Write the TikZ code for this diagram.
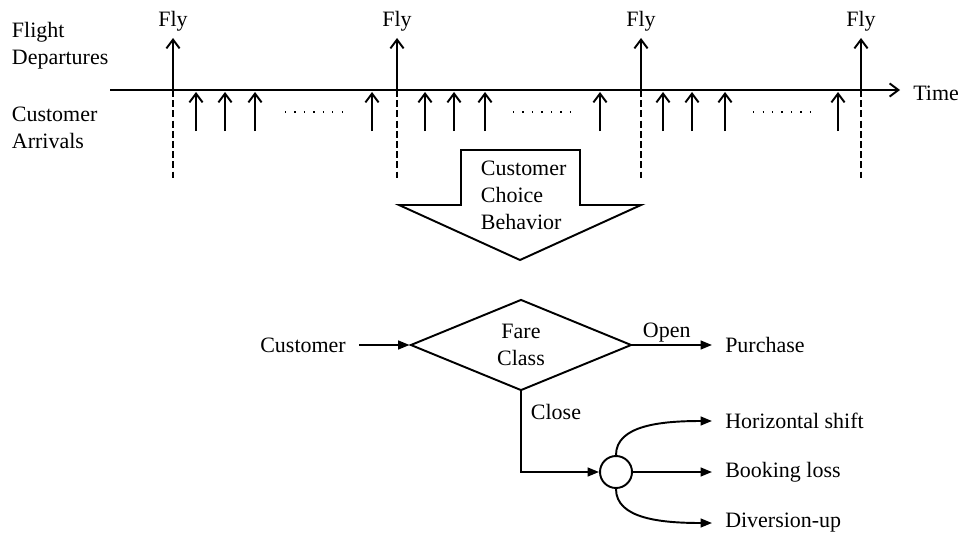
\documentclass[tikz,border=0pt]{standalone}
\usepackage{fontspec}
\setmainfont{Liberation Serif}
\usetikzlibrary{arrows.meta,shapes.geometric,positioning}

\tikzset{
  txt/.style={inner sep=0pt,font=\fontsize{12.5}{15.3}\selectfont,align=left},
  outtxt/.style={txt,anchor=west,inner xsep=7pt},
  barb/.style={-{Straight Barb[length=5pt,width=7.5pt]}},
  tip/.style={-{Triangle[length=6.5pt,width=5pt]}},
  flyline/.style={dash pattern=on 4pt off 1.8pt},
}

\begin{document}
\begin{tikzpicture}[x=0.02cm,y=-0.02cm,line width=1.1pt]
\useasboundingbox (0,0) rectangle (959,537);

% time line
\node[txt,anchor=north west] (dep) at (11,21)  {Flight\\Departures};
\node[txt,anchor=north west] (arr) at (11,106) {Customer\\Arrivals};
\coordinate (t0) at (110,90);
\node[outtxt,anchor=base west] (time) at (900,100) {Time};
\draw[barb] (t0) -- (t0 -| time.west);

% departures
\coordinate (d1) at (173,90);
\coordinate (d2) at (397,90);
\coordinate (d3) at (641,90);
\coordinate (d4) at (861,90);
\node[txt,anchor=south,inner ysep=3.5pt] (fly1) at (173,38) {Fly};
\node[txt,anchor=south,inner ysep=3.5pt] (fly2) at (397,38) {Fly};
\node[txt,anchor=south,inner ysep=3.5pt] (fly3) at (641,38) {Fly};
\node[txt,anchor=south,inner ysep=3.5pt] (fly4) at (861,38) {Fly};
\draw[barb] (d1) -- (fly1.south);
\draw[barb] (d2) -- (fly2.south);
\draw[barb] (d3) -- (fly3.south);
\draw[barb] (d4) -- (fly4.south);
\draw[flyline] (d1) -- ++(0,88);
\draw[flyline] (d2) -- ++(0,88);
\draw[flyline] (d3) -- ++(0,88);
\draw[flyline] (d4) -- ++(0,88);

% arrivals
\draw[barb] (196,131) -- (196,92);
\draw[barb] (225,131) -- (225,92);
\draw[barb] (255,131) -- (255,92);
\draw[barb] (372,131) -- (372,92);
\draw[barb] (425,131) -- (425,92);
\draw[barb] (454,131) -- (454,92);
\draw[barb] (485,131) -- (485,92);
\draw[barb] (600,131) -- (600,92);
\draw[barb] (663,131) -- (663,92);
\draw[barb] (692,131) -- (692,92);
\draw[barb] (725,131) -- (725,92);
\draw[barb] (838,131) -- (838,92);
\draw[line width=1pt,dash pattern=on 0.6pt off 4.8pt] (285,112) -- (345,112);
\draw[line width=1pt,dash pattern=on 0.6pt off 4.8pt] (513,112) -- (573,112);
\draw[line width=1pt,dash pattern=on 0.6pt off 4.8pt] (753,112) -- (813,112);

% big arrow down
\draw (461,150) -- (580,150) -- (580,205) -- (641,205) -- (520,260)
  -- (399,205) -- (461,205) -- cycle;
\node[txt,anchor=north west] (choice) at (480,160) {Customer\\Choice\\Behavior};

% decision
\node[diamond,draw,inner sep=0pt,minimum width=4.42cm,minimum height=1.82cm,
  txt,align=center] (fare) at (521,345) {Fare\\Class};
\node[txt,anchor=east,inner xsep=7pt] (cust) at (359,345) {Customer};
\node[outtxt] (buy) at (712,345) {Purchase};
\node[draw,circle,minimum size=0.64cm,inner sep=0pt] (hub) at (616,472) {};
\node[outtxt] (horiz) at (712,421) {Horizontal shift};
\node[outtxt] (loss)  at (712,472) {Booking loss};
\node[outtxt] (divup) at (712,523) {Diversion-up};

\draw[tip] (cust.east) -- (fare.west);
\draw[tip] (fare.east) -- (buy.west);
\draw[tip] (fare.south) |- (hub.west);
\draw[tip] (hub.east) -- (loss.west);
\draw[tip] (hub.north) .. controls +(0,-30) and +(-50,0) .. (horiz.west);
\draw[tip] (hub.south) .. controls +(0,30) and +(-50,0) .. (divup.west);
\node[txt,anchor=base west] (open)  at (642,337) {Open};
\node[txt,anchor=base west] (close) at (530,419) {Close};
\end{tikzpicture}
\end{document}
